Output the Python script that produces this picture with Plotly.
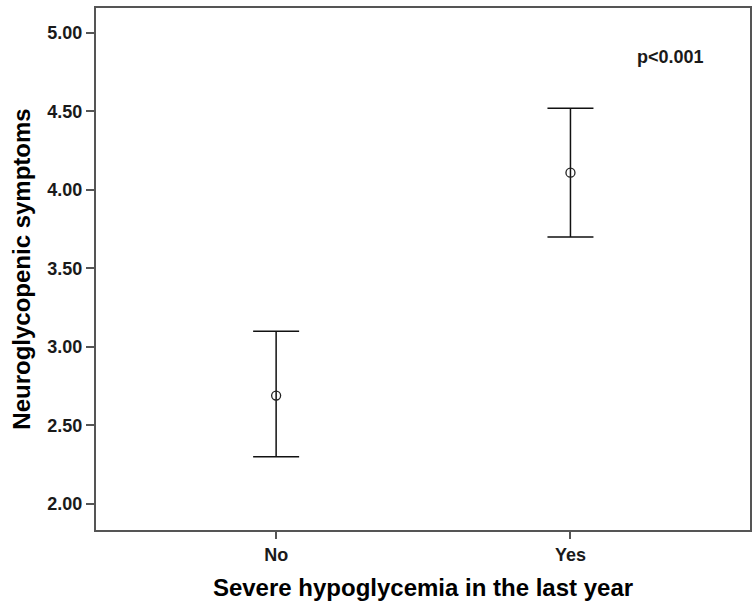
import plotly.graph_objects as go

# Group labels and summary statistics (mean with 95% CI)
categories = ["No", "Yes"]
means = [2.69, 4.11]
ci_lower = [2.30, 3.70]
ci_upper = [3.10, 4.52]
y_ticks = [2.0, 2.5, 3.0, 3.5, 4.0, 4.5, 5.0]
y_tick_labels = ["2.00", "2.50", "3.00", "3.50", "4.00", "4.50", "5.00"]
p_label = "p<0.001"

err_plus = [u - m for u, m in zip(ci_upper, means)]
err_minus = [m - l for m, l in zip(means, ci_lower)]

FONT = "Arial, Liberation Sans, sans-serif"
AXIS_COLOR = "#555555"
TEXT_COLOR = "#1a1a1a"

fig = go.Figure()
fig.add_trace(go.Scatter(
    x=categories,
    y=means,
    mode="markers",
    marker=dict(symbol="circle-open", size=9, color="#222222", line=dict(width=1.3)),
    error_y=dict(
        type="data",
        symmetric=False,
        array=err_plus,
        arrayminus=err_minus,
        color="#111111",
        thickness=1.5,
        width=23,
    ),
    showlegend=False,
))

fig.add_annotation(
    x=0.878, y=0.906, xref="paper", yref="paper",
    xanchor="center", yanchor="middle",
    text=p_label, showarrow=False,
    font=dict(family=FONT, size=18, color=TEXT_COLOR, weight="bold"),
)

fig.update_layout(
    width=754,
    height=608,
    margin=dict(l=96, r=2, t=8, b=78),
    paper_bgcolor="white",
    plot_bgcolor="white",
    font=dict(family=FONT, color=TEXT_COLOR),
)

fig.update_xaxes(
    type="category",
    range=[-0.612, 1.61],
    showline=True, linecolor=AXIS_COLOR, linewidth=2, mirror=True,
    showgrid=False, zeroline=False,
    ticks="outside", ticklen=7, tickwidth=1.5, tickcolor=AXIS_COLOR,
    ticklabelstandoff=0,
    tickfont=dict(family=FONT, size=18, color=TEXT_COLOR, weight="bold"),
    title=dict(text="<b>Severe hypoglycemia in the last year</b>",
               font=dict(family=FONT, size=24, color="#000000"), standoff=16),
)

fig.update_yaxes(
    range=[1.834, 5.159],
    tickvals=y_ticks, ticktext=y_tick_labels,
    showline=True, linecolor=AXIS_COLOR, linewidth=2, mirror=True,
    showgrid=False, zeroline=False,
    ticks="outside", ticklen=8, tickwidth=1.5, tickcolor=AXIS_COLOR,
    tickfont=dict(family=FONT, size=18, color=TEXT_COLOR, weight="bold"),
    title=dict(text="<b>Neuroglycopenic symptoms</b>",
               font=dict(family=FONT, size=24, color="#000000"), standoff=10),
)

fig.write_html("out.html")
